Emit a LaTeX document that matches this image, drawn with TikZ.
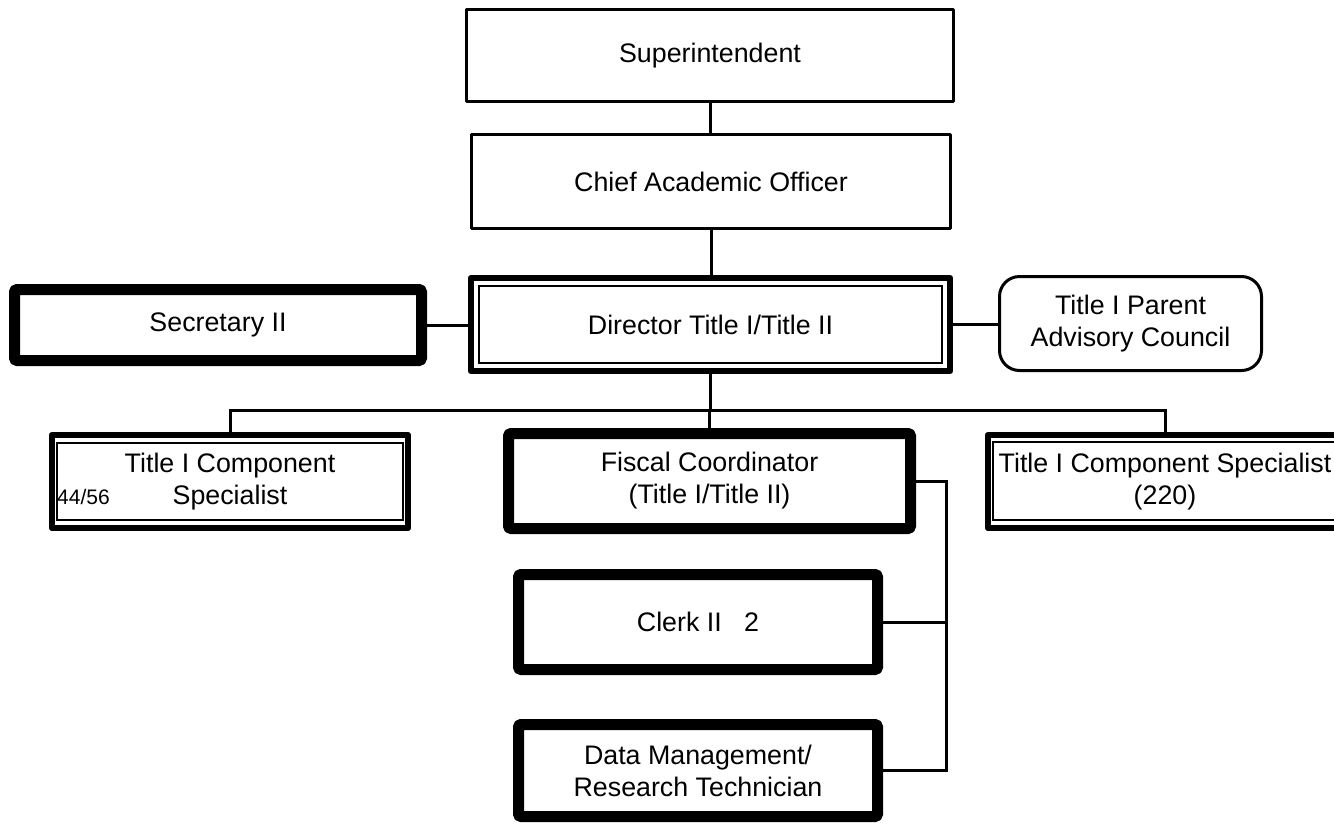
\documentclass[tikz,border=0pt]{standalone}
\usepackage{fontspec}
\setmainfont{Liberation Sans}
\begin{document}
\begin{tikzpicture}[x=1pt,y=-1pt,
  base/.style={draw, inner sep=0pt, outer sep=0pt, align=center, fill=white,
    font=\fontsize{26.8}{32}\selectfont, line join=round},
  thinbox/.style={base, line width=3pt},
  thickbox/.style={base, line width=11pt, rounded corners=1.5pt},
  dblbox/.style={base, line width=6.5pt},
  innerline/.style={line width=2pt},
  conn/.style={line width=3pt},
  small/.style={inner sep=0pt, font=\fontsize{21}{25}\selectfont}]
\useasboundingbox (0,0) rectangle (1334,823);
\clip (0,0) rectangle (1334,823);

% nodes
\node[thinbox, minimum width=487pt, minimum height=92pt] (sup) at (710,55.5) {Superintendent};
\node[thinbox, minimum width=479pt, minimum height=94pt] (cao) at (711,181.5) {Chief Academic Officer};
\node[dblbox, minimum width=479pt, minimum height=93pt] (dir) at (710.5,324.5) {Director Title I/Title II};
\draw[innerline] ([shift={(8,8)}]dir.north west) rectangle ([shift={(-8,-8)}]dir.south east);
\node[thickbox, minimum width=407pt, minimum height=71pt] (sec) at (218,325) {Secretary II};
\node[thinbox, rounded corners=20pt, minimum width=262pt, minimum height=94pt] (pac) at (1130.5,323.5) {Title I Parent\\Advisory Council};

\node[dblbox, minimum width=356pt, minimum height=93pt] (t1l) at (230,481.5) {Title I Component\\Specialist};
\draw[innerline] ([shift={(5,8)}]t1l.north west) rectangle ([shift={(-5,-8)}]t1l.south east);
\node[small, anchor=west] (num) at (57,497) {44/56};

\node[thickbox, minimum width=402pt, minimum height=95pt] (fis) at (709.5,481) {Fiscal Coordinator\\(Title I/Title II)};

\node[dblbox, minimum width=354pt, minimum height=93pt] (t1r) at (1165,481.5) {Title I Component Specialist\\(220)};
\draw[innerline] ([shift={(5,7)}]t1r.north west) rectangle ([shift={(-5,-8)}]t1r.south east);

\node[thickbox, minimum width=359pt, minimum height=95pt] (clk) at (698,622) {Clerk II~~~2};
\node[thickbox, minimum width=359pt, minimum height=92pt] (dat) at (698,770.5) {Data Management/\\Research Technician};

% bus coordinates
\coordinate (hb) at (0,410);
\coordinate (vb) at (946,0);

% connectors
\draw[conn] (sup.south) -- (sup.south |- cao.north);
\draw[conn] (cao.south) -- (cao.south |- dir.north);
\draw[conn] (sec.east) -- (sec.east -| dir.west);
\draw[conn] (dir.east) -- (dir.east -| pac.west);
\draw[conn] (dir.south) -- (dir.south |- hb);
\draw[conn] (t1l.north) -- (t1l.north |- hb) -- (t1r.north |- hb) -- (t1r.north);
\draw[conn] (fis.north) -- (fis.north |- hb);
\draw[conn] (fis.east) -- (fis.east -| vb) -- (dat.east -| vb) -- (dat.east);
\draw[conn] (clk.east) -- (clk.east -| vb);
\end{tikzpicture}
\end{document}
